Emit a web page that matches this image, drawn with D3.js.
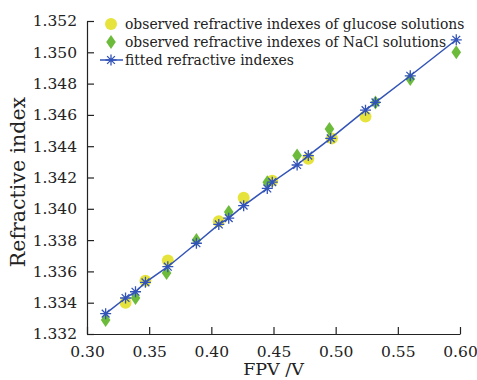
<!DOCTYPE html>
<html><head><meta charset="utf-8">
<script src="https://cdn.jsdelivr.net/npm/d3@7"></script>
<style>body{margin:0;background:#fff}svg{display:block}text{font-family:"DejaVu Serif",serif;fill:#222}</style>
</head><body><div id="chart"></div>
<script>
const glucoseX = [0.331, 0.347, 0.365, 0.406, 0.426, 0.449, 0.478, 0.497, 0.524];
const glucoseY = [1.3340, 1.3354, 1.3367, 1.3392, 1.3407, 1.3418, 1.3432, 1.3445, 1.3459];
const naclX = [0.315, 0.339, 0.364, 0.388, 0.414, 0.445, 0.469, 0.495, 0.532, 0.560, 0.597];
const naclY = [1.3329, 1.3343, 1.3359, 1.3380, 1.3398, 1.3417, 1.3434, 1.3451, 1.3468, 1.3483, 1.3500];
const fitX = [0.315, 0.331, 0.339, 0.347, 0.365, 0.388, 0.406, 0.414, 0.426, 0.445, 0.449, 0.469, 0.478, 0.496, 0.524, 0.532, 0.560, 0.597];
const fitY = [1.3333, 1.3343, 1.3347, 1.3353, 1.3363, 1.3378, 1.3390, 1.3394, 1.3402, 1.3413, 1.3417, 1.3428, 1.3434, 1.3445, 1.3463, 1.3468, 1.3485, 1.3508];
const xTicks = [0.30, 0.35, 0.40, 0.45, 0.50, 0.55, 0.60];
const yTicks = [1.332, 1.334, 1.336, 1.338, 1.340, 1.342, 1.344, 1.346, 1.348, 1.350, 1.352];
const legendLabels = ["observed refractive indexes of glucose solutions", "observed refractive indexes of NaCl solutions", "fitted refractive indexes"];
const xTitle = "FPV /V", yTitle = "Refractive index";

const W = 477, H = 380;
const m = {l: 87, r: 17, t: 21, b: 46};
const svg = d3.select("#chart").append("svg").attr("width", W).attr("height", H);
const x = d3.scaleLinear().domain([0.30, 0.60]).range([m.l, W - m.r]);
const y = d3.scaleLinear().domain([1.332, 1.352]).range([H - m.b, m.t]);

const yellow = "#e6e33c", green = "#6dbb3b", blue = "#3253b8";

// axes
const xa = svg.append("g").attr("transform", `translate(0,${H - m.b})`)
  .call(d3.axisBottom(x).tickValues(xTicks).tickFormat(d3.format(".2f")).tickSizeInner(-7).tickSizeOuter(0).tickPadding(15));
const ya = svg.append("g").attr("transform", `translate(${m.l},0)`)
  .call(d3.axisLeft(y).tickValues(yTicks).tickFormat(d3.format(".3f")).tickSizeInner(-7).tickSizeOuter(0).tickPadding(10));
[xa, ya].forEach(a => {
  a.select(".domain").attr("stroke", "#222").attr("stroke-width", 1.2);
  a.selectAll(".tick line").attr("stroke", "#222").attr("stroke-width", 1.2);
  a.selectAll(".tick text").attr("font-family", "DejaVu Serif").attr("font-size", 15.5).attr("fill", "#222");
});
xa.selectAll(".tick text").attr("dy", 0).attr("y", 22.5);

// titles
svg.append("text").attr("x", x(0.45)).attr("y", 375).attr("text-anchor", "middle")
  .attr("font-size", 17.5).text(xTitle);
svg.append("text").attr("transform", `translate(25,182) rotate(-90)`)
  .attr("text-anchor", "middle").attr("font-size", 20.5).text(yTitle);

const diamond = (cx, cy) => `M${cx},${cy - 7}L${cx + 4.8},${cy}L${cx},${cy + 7}L${cx - 4.8},${cy}Z`;
const star = (cx, cy, r) => {
  let p = "";
  for (let i = 0; i < 4; i++) {
    const a = i * Math.PI / 4;
    const dx = r * Math.sin(a), dy = r * Math.cos(a);
    p += `M${cx - dx},${cy - dy}L${cx + dx},${cy + dy}`;
  }
  return p;
};

// glucose
svg.append("g").selectAll("circle").data(glucoseX.map((d, i) => [d, glucoseY[i]])).join("circle")
  .attr("cx", d => x(d[0])).attr("cy", d => y(d[1])).attr("r", 6).attr("fill", yellow);
// NaCl
svg.append("g").selectAll("path").data(naclX.map((d, i) => [d, naclY[i]])).join("path")
  .attr("d", d => diamond(x(d[0]), y(d[1]))).attr("fill", green);
// fitted line
const fit = fitX.map((d, i) => [d, fitY[i]]);
svg.append("path").datum(fit).attr("fill", "none").attr("stroke", blue).attr("stroke-width", 1.5)
  .attr("d", d3.line().x(d => x(d[0])).y(d => y(d[1])));
svg.append("g").selectAll("path").data(fit).join("path")
  .attr("d", d => star(x(d[0]), y(d[1]), 5.5)).attr("stroke", blue).attr("stroke-width", 1.3).attr("fill", "none");

// legend
const lg = svg.append("g");
const lx = 111, ly = [24, 42, 60];
lg.append("circle").attr("cx", lx).attr("cy", ly[0]).attr("r", 6).attr("fill", yellow);
lg.append("path").attr("d", diamond(lx, ly[1])).attr("fill", green);
lg.append("line").attr("x1", 100).attr("x2", 123).attr("y1", ly[2]).attr("y2", ly[2]).attr("stroke", blue).attr("stroke-width", 1.5);
lg.append("path").attr("d", star(lx, ly[2], 5.5)).attr("stroke", blue).attr("stroke-width", 1.3);
legendLabels.forEach((t, i) => {
  lg.append("text").attr("x", 125).attr("y", ly[i]).attr("dy", "0.35em").attr("font-size", 13.9).text(t);
});
</script></body></html>
